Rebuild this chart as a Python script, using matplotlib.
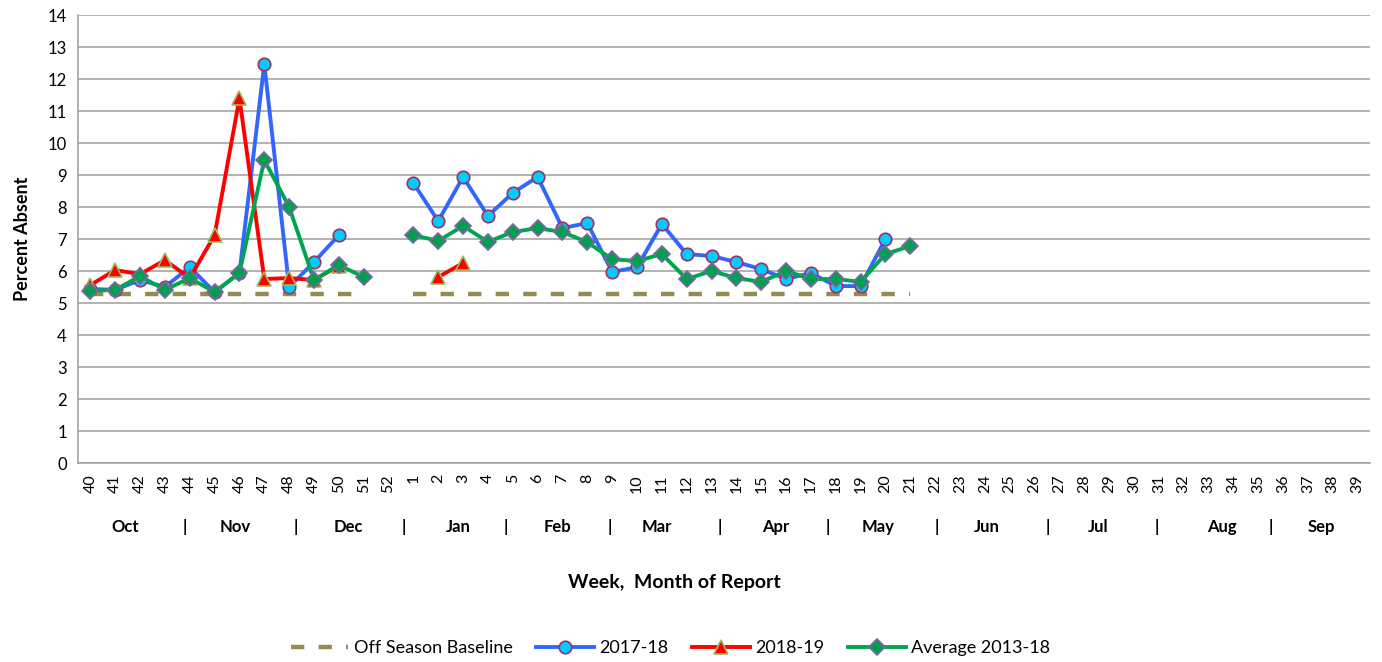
import numpy as np
import matplotlib
matplotlib.use("Agg")
import matplotlib.pyplot as plt
import matplotlib.transforms as mtransforms

nan = np.nan
weeks = [str(w) for w in list(range(40, 53)) + list(range(1, 40))]

baseline = [5.28] * 12 + [nan] + [5.28] * 21 + [nan] * 18

s2017 = [5.44, 5.41, 5.72, 5.50, 6.12, 5.34, 5.94, 12.47, 5.50, 6.28, 7.12, nan, nan,
         8.75, 7.56, 8.94, 7.72, 8.44, 8.94, 7.34, 7.50, 5.97, 6.12, 7.47, 6.53, 6.47,
         6.28, 6.06, 5.75, 5.94, 5.53, 5.53, 7.00] + [nan] * 19

s2018 = [5.56, 6.03, 5.90, 6.34, 5.78, 7.12, 11.40, 5.75, 5.78, 5.72, 6.16, nan, nan,
         nan, 5.81, 6.25] + [nan] * 36

avg = [5.38, 5.41, 5.84, 5.41, 5.78, 5.34, 5.94, 9.47, 8.00, 5.72, 6.19, 5.81, nan,
       7.12, 6.94, 7.41, 6.91, 7.22, 7.34, 7.22, 6.90, 6.37, 6.31, 6.53, 5.75, 6.00,
       5.78, 5.66, 6.00, 5.75, 5.75, 5.66, 6.53, 6.78] + [nan] * 18

months = ["Oct", "|", "Nov", "|", "Dec", "|", "Jan", "|", "Feb", "|", "Mar", "|",
          "Apr", "|", "May", "|", "Jun", "|", "Jul", "|", "Aug", "|", "Sep"]
month_pos = [1.39, 3.81, 5.82, 8.27, 10.37, 12.62, 14.79, 16.72, 18.78, 20.91, 22.8,
             25.33, 27.59, 29.68, 31.69, 34.07, 36.08, 38.53, 40.58, 42.92, 45.53,
             47.51, 49.56]

plt.rcParams['font.family'] = ['Lato', 'DejaVu Sans']

fig = plt.figure(figsize=(13.82, 6.62), dpi=100)
ax = fig.add_axes([0.0564, 0.3006, 0.9349, 0.6767])

x = np.arange(len(weeks))
ax.plot(x, baseline, color='#948A54', lw=3.2, dashes=(3, 3.2), label='Off Season Baseline', zorder=2)
ax.plot(x, s2017, color='#3366FF', lw=2.8, marker='o', ms=9, mfc='#00CCFF', mec='#993366',
        mew=1.2, label='2017-18', zorder=3)
ax.plot(x, s2018, color='#FF0000', lw=2.8, marker='^', ms=10, mfc='#FF0000', mec='#9BBB59',
        mew=1.2, label='2018-19', zorder=4)
ax.plot(x, avg, color='#00A550', lw=2.8, marker='D', ms=8, mfc='#00A050', mec='#8064A2',
        mew=1.2, label='Average 2013-18', zorder=5)

ax.set_xlim(-0.5, len(weeks) - 0.5)
ax.set_ylim(0, 14)
ax.set_yticks(range(0, 15))
ax.set_xticks(x)
ax.set_xticklabels(weeks, rotation=90, fontsize=11.5)
ax.tick_params(axis='y', labelsize=12, length=0, pad=8)
ax.tick_params(axis='x', length=0, pad=8)
ax.grid(axis='y', color='#A6A6A6', lw=1.2)
ax.set_axisbelow(True)
for s in ['top', 'right']:
    ax.spines[s].set_visible(False)
for s in ['left', 'bottom']:
    ax.spines[s].set_color('#A6A6A6')
    ax.spines[s].set_linewidth(1.2)

ax.set_ylabel('Percent Absent', fontsize=13, fontweight='bold', labelpad=12)

trans = mtransforms.blended_transform_factory(ax.transData, ax.transAxes)
for m, p in zip(months, month_pos):
    ax.text(p, -0.143, m, transform=trans, ha='center', va='center',
            fontsize=12, fontweight='bold')

ax.text(0.462, -0.266, 'Week,  Month of Report', transform=ax.transAxes, ha='center',
        va='center', fontsize=14, fontweight='bold')

fig.legend(loc='center', bbox_to_anchor=(0.485, 0.021), ncol=4, frameon=False,
           fontsize=13, handlelength=3.2, handletextpad=0.3, columnspacing=1.3)

fig.savefig('out.png', dpi=100)
